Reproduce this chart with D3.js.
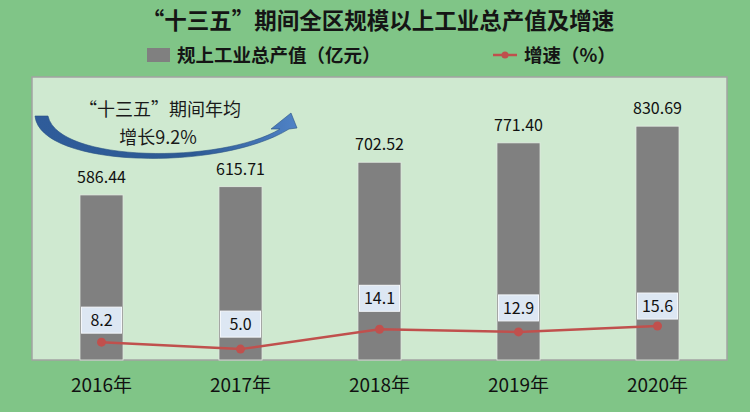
<!DOCTYPE html>
<html lang="zh">
<head>
<meta charset="UTF-8" />
<title>“十三五”期间全区规模以上工业总产值及增速</title>
<script src="https://d3js.org/d3.v7.min.js"></script>
<style>
  html, body { margin: 0; padding: 0; background: #80c587; }
  svg { display: block; }
  text { font-family: "Noto Sans CJK SC", "Liberation Sans", sans-serif; }
</style>
</head>
<body>
<svg width="750" height="412"></svg>
<script>
  const years = ["2016年", "2017年", "2018年", "2019年", "2020年"];
  const outputValues = [586.44, 615.71, 702.52, 771.40, 830.69];
  const growthRates = [8.2, 5.0, 14.1, 12.9, 15.6];
  const titleText = "“十三五”期间全区规模以上工业总产值及增速";
  const seriesNames = ["规上工业总产值（亿元）", "增速（%）"];
  const noteLines = ["“十三五”期间年均", "增长9.2%"];

  // label placement (manual in the original)
  const rateLabelDy = [-22, -25, -31, -24, -20];

  const svg = d3.select("svg");
  const plot = {left: 32, right: 727, top: 77, bottom: 360};

  const x = d3.scaleBand()
    .domain(years)
    .range([plot.left, plot.right])
    .paddingInner(0.69)
    .paddingOuter(0.345);

  const y = d3.scaleLinear().domain([0, 1000]).range([plot.bottom, 78.5]);
  const y2 = d3.scaleLinear().domain([0, 130]).range([plot.bottom, plot.top]);

  // title
  svg.append("text")
    .attr("x", 378).attr("y", 29)
    .attr("text-anchor", "middle")
    .attr("font-size", 22.5).attr("font-weight", "bold")
    .attr("fill", "#151515")
    .text(titleText);

  // legend
  const legend = svg.append("g");
  legend.append("rect")
    .attr("x", 147).attr("y", 48).attr("width", 23).attr("height", 14)
    .attr("fill", "#808080");
  legend.append("text")
    .attr("x", 177).attr("y", 62)
    .attr("font-size", 18.5).attr("font-weight", "bold").attr("fill", "#151515")
    .text(seriesNames[0]);
  legend.append("line")
    .attr("x1", 493).attr("x2", 517).attr("y1", 55).attr("y2", 55)
    .attr("stroke", "#c0504d").attr("stroke-width", 2.5);
  legend.append("circle")
    .attr("cx", 505).attr("cy", 55).attr("r", 3.5).attr("fill", "#c0504d");
  legend.append("text")
    .attr("x", 524).attr("y", 62)
    .attr("font-size", 18.5).attr("font-weight", "bold").attr("fill", "#151515")
    .text(seriesNames[1]);

  // plot area
  svg.append("rect")
    .attr("x", plot.left).attr("y", plot.top)
    .attr("width", plot.right - plot.left).attr("height", plot.bottom - plot.top)
    .attr("fill", "#cfe9d0")
    .attr("stroke", "#a3a3a3").attr("stroke-width", 1.5);

  // bars
  svg.append("g").selectAll("rect")
    .data(outputValues)
    .join("rect")
    .attr("x", (d, i) => x(years[i]))
    .attr("y", d => y(d))
    .attr("width", x.bandwidth())
    .attr("height", d => y(0) - y(d))
    .attr("fill", "#808080")
    .attr("stroke", "#e4eee4").attr("stroke-width", 0.8);

  svg.append("g").selectAll("text")
    .data(outputValues)
    .join("text")
    .attr("x", (d, i) => x(years[i]) + x.bandwidth() / 2)
    .attr("y", d => y(d) - 12)
    .attr("text-anchor", "middle")
    .attr("font-family", "Liberation Sans, sans-serif")
    .attr("font-size", 16).attr("fill", "#111")
    .text(d => d.toFixed(2));

  // growth line
  const cx = (d, i) => x(years[i]) + x.bandwidth() / 2;
  const line = d3.line().x(cx).y(d => y2(d));

  svg.append("path")
    .datum(growthRates)
    .attr("d", line)
    .attr("fill", "none")
    .attr("stroke", "#c0504d").attr("stroke-width", 2.5);

  svg.append("g").selectAll("circle")
    .data(growthRates)
    .join("circle")
    .attr("cx", cx).attr("cy", d => y2(d)).attr("r", 4.5)
    .attr("fill", "#c0504d");

  const rateLabels = svg.append("g").selectAll("g")
    .data(growthRates)
    .join("g")
    .attr("transform", (d, i) => `translate(${cx(d, i)},${y2(d) + rateLabelDy[i]})`);
  rateLabels.append("rect")
    .attr("x", -20).attr("y", -13).attr("width", 40).attr("height", 26)
    .attr("fill", "#dde7f3").attr("stroke", "#f4f7fb").attr("stroke-width", 1);
  rateLabels.append("text")
    .attr("y", 6)
    .attr("text-anchor", "middle")
    .attr("font-family", "Liberation Sans, sans-serif")
    .attr("font-size", 16).attr("fill", "#111")
    .text(d => d.toFixed(1));

  // category axis
  const xAxis = svg.append("g")
    .attr("transform", `translate(0,${plot.bottom})`)
    .call(d3.axisBottom(x).tickSize(0).tickPadding(19));
  xAxis.select(".domain").remove();
  xAxis.selectAll("text")
    .attr("font-family", "Liberation Sans, Noto Sans CJK SC, sans-serif")
    .attr("font-size", 19).attr("fill", "#111");

  // curved arrow annotation
  const defs = svg.append("defs");
  const grad = defs.append("linearGradient")
    .attr("id", "arrowGrad")
    .attr("x1", "0").attr("y1", "0").attr("x2", "1").attr("y2", "0");
  grad.append("stop").attr("offset", "0%").attr("stop-color", "#2f5c9a");
  grad.append("stop").attr("offset", "60%").attr("stop-color", "#2d5a94");
  grad.append("stop").attr("offset", "100%").attr("stop-color", "#4f82c6");

  const arrow = d3.path();
  arrow.moveTo(35, 116);
  arrow.bezierCurveTo(40, 168, 220, 172, 289, 129);
  arrow.lineTo(297, 128);
  arrow.lineTo(291, 113);
  arrow.lineTo(271, 129);
  arrow.lineTo(280, 129);
  arrow.bezierCurveTo(222, 164, 58, 163, 48, 116);
  arrow.closePath();
  svg.append("path")
    .attr("d", arrow.toString())
    .attr("fill", "url(#arrowGrad)")
    .attr("stroke", "#2a5283").attr("stroke-width", 0.6);

  svg.append("g").selectAll("text")
    .data(noteLines)
    .join("text")
    .attr("x", (d, i) => i === 0 ? 160 : 158)
    .attr("y", (d, i) => 116 + i * 28)
    .attr("text-anchor", "middle")
    .attr("font-size", 18).attr("fill", "#1a1a1a")
    .text(d => d);
</script>
</body>
</html>
